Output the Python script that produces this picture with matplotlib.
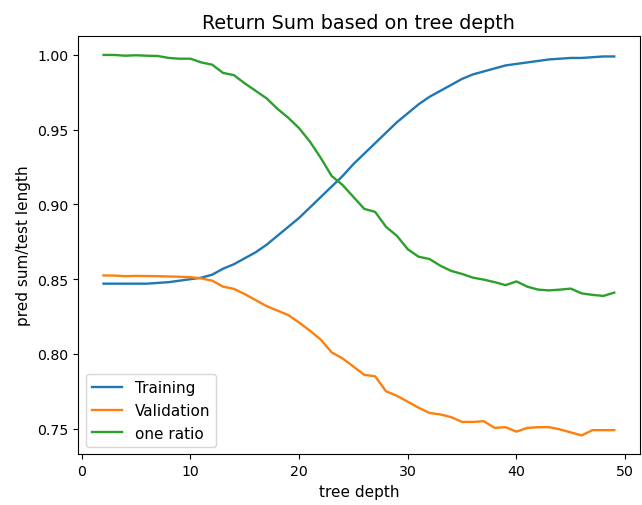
import matplotlib
matplotlib.use("Agg")
import matplotlib.pyplot as plt

depth = list(range(2, 50))

training = [0.847, 0.847, 0.847, 0.847, 0.847, 0.8475, 0.848, 0.849, 0.850, 0.851,
            0.853, 0.857, 0.860, 0.864, 0.868, 0.873, 0.879, 0.885, 0.891, 0.898,
            0.905, 0.912, 0.919, 0.927, 0.934, 0.941, 0.948, 0.955, 0.961, 0.967,
            0.972, 0.976, 0.980, 0.984, 0.987, 0.989, 0.991, 0.993, 0.994, 0.995,
            0.996, 0.997, 0.9975, 0.998, 0.998, 0.9985, 0.999, 0.999]

validation = [0.8525, 0.8524, 0.852, 0.8522, 0.8521, 0.852, 0.8518, 0.8516, 0.8513, 0.8505,
              0.849, 0.845, 0.8435, 0.840, 0.836, 0.832, 0.829, 0.826, 0.821, 0.8155,
              0.8095, 0.801, 0.797, 0.7915, 0.786, 0.785, 0.775, 0.772, 0.768, 0.764,
              0.7605, 0.7595, 0.7577, 0.7545, 0.7545, 0.755, 0.7505, 0.751, 0.748, 0.7505,
              0.751, 0.751, 0.7495, 0.7475, 0.7455, 0.749, 0.749, 0.749]

one_ratio = [1.0, 1.0, 0.9995, 0.9998, 0.9995, 0.9993, 0.998, 0.9975, 0.9975, 0.995,
             0.9935, 0.988, 0.9865, 0.981, 0.976, 0.971, 0.964, 0.958, 0.951, 0.942,
             0.931, 0.919, 0.913, 0.905, 0.897, 0.895, 0.885, 0.879, 0.870, 0.865,
             0.8635, 0.859, 0.8555, 0.8535, 0.851, 0.8497, 0.848, 0.846, 0.8485, 0.845,
             0.843, 0.8425, 0.843, 0.8437, 0.8405, 0.8395, 0.8388, 0.841]

fig = plt.figure(figsize=(6.42, 5.06), dpi=100)
ax = fig.add_axes([0.1215, 0.1, 0.875, 0.827])

ax.plot(depth, training, label="Training", linewidth=1.7)
ax.plot(depth, validation, label="Validation", linewidth=1.7)
ax.plot(depth, one_ratio, label="one ratio", linewidth=1.7)

ax.set_title("Return Sum based on tree depth", fontsize=13.8)
ax.set_xlabel("tree depth", fontsize=11)
ax.set_ylabel("pred sum/test length", fontsize=11)
ax.tick_params(axis='both', labelsize=10.2)
ax.legend(loc="lower left", fontsize=11)

plt.savefig("out.png", dpi=100)
